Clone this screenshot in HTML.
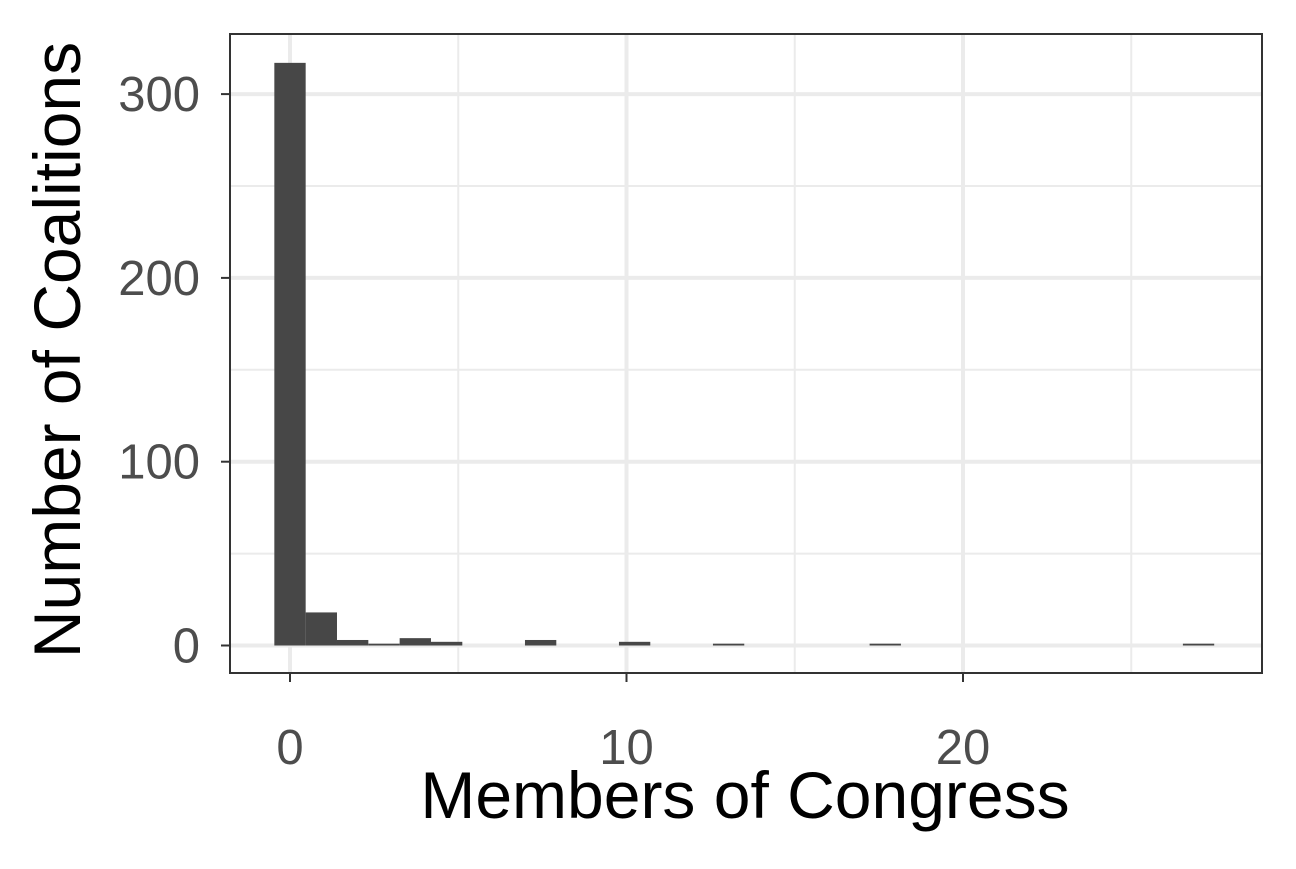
<!DOCTYPE html>
<html><head><meta charset="utf-8"><style>
body{margin:0;background:#fff;}
svg text{font-family:"Liberation Sans",Arial,sans-serif;}
</style></head><body>
<svg id="chart" width="1296" height="864" viewBox="0 0 1296 864" xmlns="http://www.w3.org/2000/svg">
<rect x="0" y="0" width="1296" height="864" fill="#fff"/>
<g id="grid"></g>
<g id="bars"></g>
<rect x="230" y="34" width="1032" height="639" fill="none" stroke="#333" stroke-width="2"/>
<g id="axes"></g>
<text x="745" y="818" font-size="66" text-anchor="middle" fill="#000">Members of Congress</text>
<text transform="translate(80,350) rotate(-90)" font-size="66" text-anchor="middle" fill="#000">Number of Coalitions</text>
</svg>
<script>
const counts = [317,18,3,1,4,2,0,0,3,0,0,2,0,0,1,0,0,0,0,1,0,0,0,0,0,0,0,0,0,1];
const xTicks = [0,10,20];
const yTicks = [0,100,200,300];
const binWidth = 27/29;
const ns = "http://www.w3.org/2000/svg";
function xs(v){return 290 + v*33.65;}
function ys(v){return 645.5 - v*1.838;}
const grid = document.getElementById('grid'), bars = document.getElementById('bars'), axes = document.getElementById('axes');
function line(p,x1,y1,x2,y2,c,w,name){const l=document.createElementNS(ns,'line');l.setAttribute('x1',x1);l.setAttribute('y1',y1);l.setAttribute('x2',x2);l.setAttribute('y2',y2);l.setAttribute('stroke',c);l.setAttribute('stroke-width',w);


p.appendChild(l);}
function txt(p,x,y,s,anchor,name){const t=document.createElementNS(ns,'text');t.setAttribute('x',x);t.setAttribute('y',y);t.setAttribute('font-size','49');t.setAttribute('fill','#4d4d4d');t.setAttribute('text-anchor',anchor);t.textContent=s;


p.appendChild(t);}
for(let i=0;i<xTicks.length;i++){const m=xTicks[i]+5;const px=xs(m);if(px>230&&px<1262)line(grid,px,34,px,673,'#ebebeb',2,'x-minor-grid');}
for(let i=0;i<yTicks.length;i++){const m=yTicks[i]+50;const py=ys(m);if(py>34&&py<673)line(grid,230,py,1262,py,'#ebebeb',2,'y-minor-grid');}
xTicks.forEach(v=>{line(grid,xs(v),34,xs(v),673,'#ebebeb',4,'x-major-grid');line(axes,xs(v),673,xs(v),682,'#333',2,'x-tick');txt(axes,xs(v),764,String(v),'middle','x-tick-label');});
yTicks.forEach(v=>{line(grid,230,ys(v),1262,ys(v),'#ebebeb',4,'y-major-grid');line(axes,221,ys(v),230,ys(v),'#333',2,'y-tick');txt(axes,200,ys(v)+17,String(v),'end','y-tick-label');});
counts.forEach((c,i)=>{if(c<=0)return;const x0=xs(i*binWidth-binWidth/2),x1=xs(i*binWidth+binWidth/2);const r=document.createElementNS(ns,'rect');r.setAttribute('x',x0);r.setAttribute('width',x1-x0);r.setAttribute('y',ys(c));r.setAttribute('height',ys(0)-ys(c));r.setAttribute('fill','#474747');


bars.appendChild(r);});
</script>
</body></html>
